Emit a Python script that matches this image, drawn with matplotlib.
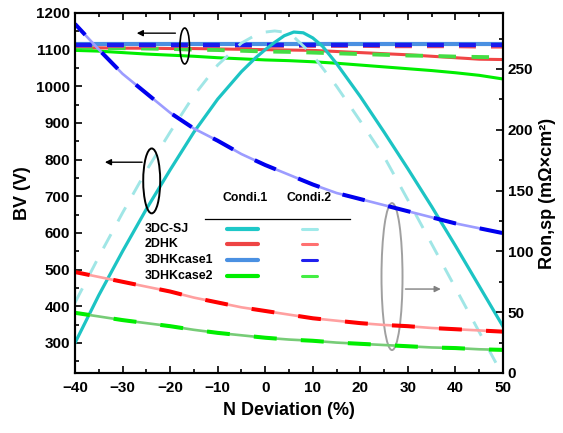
import matplotlib
matplotlib.use('Agg')
import matplotlib.pyplot as plt
from matplotlib.patches import Ellipse
from matplotlib.lines import Line2D
import numpy as np

plt.rcParams['font.family'] = ['Liberation Sans', 'DejaVu Sans']
plt.rcParams['font.weight'] = 'bold'

# N deviation (%)
x = [-40, -35, -30, -25, -20, -15, -10, -5, 0, 5, 10, 15, 20, 25, 30, 35, 40, 45, 50]

# BV (V), left axis
sj_x1 = [-40, -35, -30, -25, -20, -15, -10, -7, -5, -2, 0, 2, 4, 6, 8, 10, 12, 15, 20, 25, 30, 35, 40, 45, 50]
sj_bv1 = [300, 430, 550, 665, 772, 875, 965, 1010, 1040, 1078, 1100, 1120, 1138, 1148, 1146, 1132, 1110, 1062, 972, 875, 775, 672, 565, 455, 345]
sj_x2 = [-40, -35, -30, -25, -20, -15, -10, -5, -2, 0, 2, 4, 6, 10, 15, 20, 25, 30, 35, 40, 45, 50]
sj_bv2 = [410, 535, 655, 770, 875, 975, 1058, 1118, 1140, 1148, 1151, 1148, 1135, 1085, 1000, 905, 808, 690, 570, 450, 330, 210]
dhk_bv1 = [1105, 1105, 1104, 1104, 1103, 1103, 1102, 1101, 1100, 1099, 1098, 1095, 1092, 1089, 1086, 1082, 1078, 1074, 1073]
dhk_bv2 = [1111, 1111, 1111, 1111, 1111, 1111, 1111, 1111, 1111, 1111, 1111, 1111, 1111, 1110, 1110, 1110, 1110, 1109, 1109]
c1_bv1 = [1115] * 19
c1_bv2 = [1114] * 19
c2_bv1 = [1098, 1096, 1092, 1088, 1085, 1082, 1078, 1075, 1072, 1070, 1067, 1063, 1058, 1053, 1048, 1043, 1037, 1030, 1020]
c2_bv2 = [1106, 1105, 1104, 1103, 1102, 1100, 1099, 1097, 1095, 1094, 1092, 1090, 1088, 1086, 1084, 1083, 1081, 1080, 1079]

# Ron,sp (mOhm cm2), right axis
c1_ron = [287, 266, 246, 230, 214, 201, 191, 180, 171, 163, 155, 148, 143, 138, 133, 128, 123, 119, 115]
dhk_ron = [83, 79, 75, 71, 67, 62, 58, 54, 51, 48, 45, 43, 41, 39.5, 38.5, 37, 36, 35, 34]
c2_ron = [49.5, 46.5, 43.5, 41, 38.5, 35.5, 33, 31, 29, 27.5, 26.5, 25, 24, 23, 22, 21, 20.5, 19.5, 19]

fig = plt.figure(figsize=(5.63, 4.33), dpi=100)
ax = fig.add_axes([75/563, 1-373/433, 428/563, 360/433])
ax2 = ax.twinx()

# BV curves
ax.plot(sj_x1, sj_bv1, color='#1cc4c4', lw=2.3, zorder=3)
ax.plot(sj_x2, sj_bv2, color='#a0e6e6', lw=2.1, ls=(0, (5.5, 5)), zorder=3)
ax.plot(x, c1_bv1, color='#4a90e2', lw=3.0, zorder=2)
ax.plot(x, dhk_bv1, color='#f04545', lw=2.2, zorder=2)
ax.plot(x, c2_bv1, color='#00ee00', lw=2.2, zorder=2)
ax.plot(x, c2_bv2, color='#44dd44', lw=2.8, ls=(0, (4.5, 4)), zorder=2)
ax.plot(x, dhk_bv2, color='#ff5050', lw=3.2, ls=(0, (3.8, 3.4)), zorder=2)
ax.plot(x, c1_bv2, color='#1a1aee', lw=3.2, ls=(0, (3.8, 3.4)), zorder=2)

# Ron curves
for vals, light, dark in [(c1_ron, '#9c9cff', '#0000ee'),
                          (dhk_ron, '#ffa0a0', '#ff0000'),
                          (c2_ron, '#77cc77', '#00ee00')]:
    ax2.plot(x, vals, color=light, lw=1.9)
    ax2.plot(x, vals, color=dark, lw=2.9, ls=(2, (5.7, 6)))

ax.set_xlim(-40, 50)
ax.set_ylim(218, 1200)
ax2.set_ylim(0, 296)
ax.set_xticks(range(-40, 51, 10))
ax.set_xticks(range(-35, 50, 10), minor=True)
ax.set_yticks(range(300, 1201, 100))
ax.set_yticks(range(250, 1200, 100), minor=True)
ax2.set_yticks(range(0, 251, 50))
ax2.set_yticks(range(25, 296, 50), minor=True)

for a in (ax, ax2):
    for s in a.spines.values():
        s.set_linewidth(1.5)
ax.tick_params(which='both', direction='in', top=True, right=False, labelsize=11, width=1.2)
ax.tick_params(which='major', length=5)
ax.tick_params(which='minor', length=3)
ax.tick_params(axis='x', pad=6)
ax2.tick_params(which='both', direction='in', labelsize=11, width=1.2)
ax2.tick_params(which='major', length=5)
ax2.tick_params(which='minor', length=3)

ax.set_xlabel('N Deviation (%)', fontsize=13, fontweight='bold', labelpad=5)
ax.set_ylabel('BV (V)', fontsize=13, fontweight='bold', labelpad=4)
ax2.set_ylabel('Ron,sp (m\u03a9\u00d7cm\u00b2)', fontsize=13, fontweight='bold', labelpad=4)

# ellipses and arrows
ax.add_patch(Ellipse((-16.93, 1110), 2.0, 98, fill=False, ec='black', lw=1.2, zorder=5))
ax.annotate('', xy=(-27.6, 1145), xytext=(-18.3, 1145),
            arrowprops=dict(arrowstyle='-|>', color='black', lw=1.0, mutation_scale=9), zorder=5)
ax.add_patch(Ellipse((-23.87, 742), 3.57, 177, fill=False, ec='black', lw=1.4, zorder=5))
ax.annotate('', xy=(-34.3, 793), xytext=(-25.3, 793),
            arrowprops=dict(arrowstyle='-|>', color='black', lw=1.0, mutation_scale=9), zorder=5)
ax.add_patch(Ellipse((26.66, 481), 4.42, 401, fill=False, ec='#a0a0a0', lw=1.4, zorder=5))
ax.annotate('', xy=(37.5, 447), xytext=(28.9, 447),
            arrowprops=dict(arrowstyle='-|>', color='#808080', lw=1.0, mutation_scale=9), zorder=5)

# custom legend table
def fx(px):
    return px / 563

def fy(py):
    return 1 - py / 433

fig.text(fx(245), fy(197.5), 'Condi.1', fontsize=8.8, fontweight='bold', ha='center', va='center')
fig.text(fx(309), fy(197.5), 'Condi.2', fontsize=8.8, fontweight='bold', ha='center', va='center')
fig.add_artist(Line2D([fx(205), fx(350)], [fy(219), fy(219)], color='black', lw=0.9))
names = ['3DC-SJ', '2DHK', '3DHKcase1', '3DHKcase2']
col1 = ['#1ec8c8', '#ee4444', '#4a90e2', '#00ee00']
col2 = ['#a0eaea', '#ff7070', '#2020ee', '#44ee44']
rows_y = [229, 244, 260, 276]
for name, c1, c2, ry in zip(names, col1, col2, rows_y):
    fig.text(fx(145), fy(ry), name, fontsize=8.9, fontweight='bold', ha='left', va='center')
    fig.add_artist(Line2D([fx(227), fx(258)], [fy(ry), fy(ry)], color=c1, lw=3.0, solid_capstyle='round'))
    fig.add_artist(Line2D([fx(302), fx(317)], [fy(ry), fy(ry)], color=c2, lw=2.2, solid_capstyle='round'))

fig.savefig('out.png', dpi=100)
